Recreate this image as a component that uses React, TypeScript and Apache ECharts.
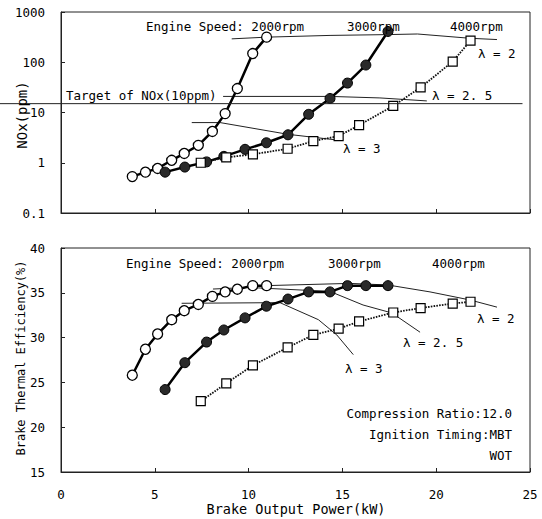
import React, { useEffect, useRef } from 'react';
import * as echarts from 'echarts';

// Brake output power (kW) at each operating point
const power2000 = [3.8, 4.5, 5.15, 5.9, 6.57, 7.32, 8.07, 8.75, 9.4, 10.22, 10.96];
const power3000 = [5.55, 6.6, 7.76, 8.68, 9.81, 10.95, 12.1, 13.2, 14.34, 15.27, 16.25, 17.43];
const power4000 = [7.45, 8.81, 10.23, 12.08, 13.45, 14.8, 15.89, 17.71, 19.17, 20.88, 21.83];

// NOx (ppm)
const nox2000 = [0.53, 0.65, 0.77, 1.12, 1.53, 2.22, 4.2, 9.5, 30, 149, 316];
const nox3000 = [0.65, 0.82, 1.04, 1.34, 1.85, 2.5, 3.6, 9.2, 19, 38.5, 88, 410];
const nox4000 = [1.0, 1.28, 1.47, 1.9, 2.7, 3.4, 5.6, 13.5, 31.6, 103, 270];

// Brake thermal efficiency (%)
const bte2000 = [25.8, 28.7, 30.4, 32.0, 33.0, 33.7, 34.6, 35.1, 35.4, 35.8, 35.8];
const bte3000 = [24.2, 27.2, 29.5, 30.85, 32.2, 33.5, 34.3, 35.1, 35.1, 35.8, 35.8, 35.8];
const bte4000 = [22.9, 24.9, 26.9, 28.9, 30.3, 31.0, 31.8, 32.8, 33.3, 33.8, 34.0];

// Equal-lambda guide lines [power, value]
const lam2Nox = [[9.1, 292], [10.96, 316], [14.34, 342], [17.4, 355], [19.0, 365], [21.8, 300], [23.24, 283]];
const lam25Nox = [[8.64, 20.9], [14.34, 20.9], [17.0, 19.5], [19.5, 17.0]];
const lam3Nox = [[6.97, 6.3], [8.48, 6.3], [12.1, 3.68], [14.87, 2.79]];
const lam2Bte = [[10.93, 35.8], [15.4, 36.05], [17.43, 35.87], [19.67, 35.1], [21.8, 34.2], [23.24, 33.4]];
const lam25Bte = [[8.1, 35.42], [10.0, 35.6], [14.34, 35.15], [16.1, 33.64], [17.64, 32.75], [19.14, 30.6]];
const lam3Bte = [[6.43, 33.83], [11.67, 33.9], [13.72, 32.0], [14.7, 30.3], [15.58, 28.1]];

const targetNOx = 15;
const targetEnd = 24.6;

const xTicks = [0, 5, 10, 15, 20, 25];
const noxTicks = ['0.1', '1', '10', '100', '1000'];
const bteTicks = [15, 20, 25, 30, 35, 40];

const FONT = 'DejaVu Sans Mono';
const INK = '#000';
const WEIGHT = 'normal';

function pairs(xs: number[], ys: number[]) {
  return xs.map((x, i) => [x, ys[i]]);
}

export default function App() {
  const ref = useRef<HTMLDivElement>(null);
  useEffect(() => {
    const chart = echarts.init(ref.current!, null, { renderer: 'svg' });
    const axisCommon = {
      axisLine: { show: true, lineStyle: { color: '#222', width: 1 } },
      axisTick: { show: true, inside: true, length: 4, lineStyle: { color: '#222' } },
      splitLine: { show: false },
    };
    const labelStyle = { fontFamily: FONT, fontSize: 12.5, color: INK, fontWeight: WEIGHT };
    const open = { color: '#fff', borderColor: '#000', borderWidth: 1.3 };
    const filled = { color: '#2a2a2a', borderColor: '#000', borderWidth: 1 };
    const thin = (gi: number, data: number[][]) => ({
      type: 'line', xAxisIndex: gi, yAxisIndex: gi, data, showSymbol: false, symbol: 'none',
      lineStyle: { color: '#222', width: 1 }, z: 1, silent: true,
    });
    const main = (gi: number, data: number[][], kind: number) => ({
      type: 'line', xAxisIndex: gi, yAxisIndex: gi, data,
      symbol: kind === 2 ? 'rect' : 'circle',
      symbolSize: kind === 2 ? 9 : 10,
      itemStyle: kind === 0 ? open : kind === 1 ? filled : { ...open, borderWidth: 1.2 },
      lineStyle: kind === 2 ? { color: '#111', width: 1.8, type: [1.6, 1.2] } : { color: '#000', width: 2.5 },
      z: 3,
    });
    const option: any = {
      animation: false,
      backgroundColor: '#fff',
      grid: [
        { left: 61, right: 12, top: 12, height: 201, show: true, borderColor: '#222', borderWidth: 1 },
        { left: 61, right: 12, top: 248, height: 224, show: true, borderColor: '#222', borderWidth: 1 },
      ],
      xAxis: [
        { type: 'value', gridIndex: 0, min: xTicks[0], max: xTicks[xTicks.length - 1], interval: 5, ...axisCommon, axisLabel: { show: false } },
        { type: 'value', gridIndex: 1, min: xTicks[0], max: xTicks[xTicks.length - 1], interval: 5, ...axisCommon, axisLabel: { ...labelStyle, margin: 16 } },
      ],
      yAxis: [
        {
          type: 'log', gridIndex: 0, logBase: 10, min: +noxTicks[0], max: +noxTicks[noxTicks.length - 1], ...axisCommon,
          axisLabel: { ...labelStyle, margin: 16, formatter: (v: number) => noxTicks.find((t) => Math.abs(+t - v) < 1e-6 * Math.max(1, v)) || String(v) },
        },
        {
          type: 'value', gridIndex: 1, min: bteTicks[0], max: bteTicks[bteTicks.length - 1], interval: 5, ...axisCommon,
          axisLabel: { ...labelStyle, margin: 16 },
        },
      ],
      series: [
        thin(0, lam2Nox), thin(0, lam25Nox), thin(0, lam3Nox),
        thin(1, lam2Bte), thin(1, lam25Bte), thin(1, lam3Bte),
        main(0, pairs(power2000, nox2000), 0),
        main(0, pairs(power3000, nox3000), 1),
        main(0, pairs(power4000, nox4000), 2),
        main(1, pairs(power2000, bte2000), 0),
        main(1, pairs(power3000, bte3000), 1),
        main(1, pairs(power4000, bte4000), 2),
      ],
    };
    chart.setOption(option);

    const ty = chart.convertToPixel({ yAxisIndex: 0 }, targetNOx) as number;
    const tx = chart.convertToPixel({ xAxisIndex: 0 }, targetEnd) as number;
    const txt = (text: string, x: number, y: number, size = 12.5, align = 'left', extra: any = {}) => ({
      type: 'text', x, y, z: 10, ...extra,
      style: { text, fontFamily: FONT, fontSize: size, fontWeight: WEIGHT, fill: INK, textAlign: align, textVerticalAlign: 'middle' },
    });
    chart.setOption({
      graphic: [
        { type: 'line', shape: { x1: 0, y1: ty, x2: tx, y2: ty }, style: { stroke: '#222', lineWidth: 1 }, z: 5 },
        txt('Target of NOx(10ppm)', 66, ty - 8),
        txt('Engine Speed: 2000rpm', 146, 26),
        txt('3000rpm', 347, 26),
        txt('4000rpm', 450, 26),
        txt('λ = 2', 478, 53),
        txt('λ = 2. 5', 432, 95),
        txt('λ = 3', 343, 148),
        txt('Engine Speed: 2000rpm', 126, 263),
        txt('3000rpm', 328, 263),
        txt('4000rpm', 432, 263),
        txt('λ = 2', 477, 318),
        txt('λ = 2. 5', 403, 342),
        txt('λ = 3', 345, 368),
        txt('Compression Ratio:12.0', 512, 413, 12.5, 'right'),
        txt('Ignition Timing:MBT', 512, 434, 12.5, 'right'),
        txt('WOT', 512, 455, 12.5, 'right'),
        txt('NOx(ppm)', 22, 115, 14, 'center', { rotation: Math.PI / 2 }),
        txt('Brake Thermal Efficiency(%)', 21, 358, 12, 'center', { rotation: Math.PI / 2 }),
        txt('Brake Output Power(kW)', 296, 509, 13.5, 'center'),
      ],
    });
    return () => chart.dispose();
  }, []);
  return <div ref={ref} style={{ position: 'fixed', left: 0, top: 0, width: 542, height: 519 }} />;
}
